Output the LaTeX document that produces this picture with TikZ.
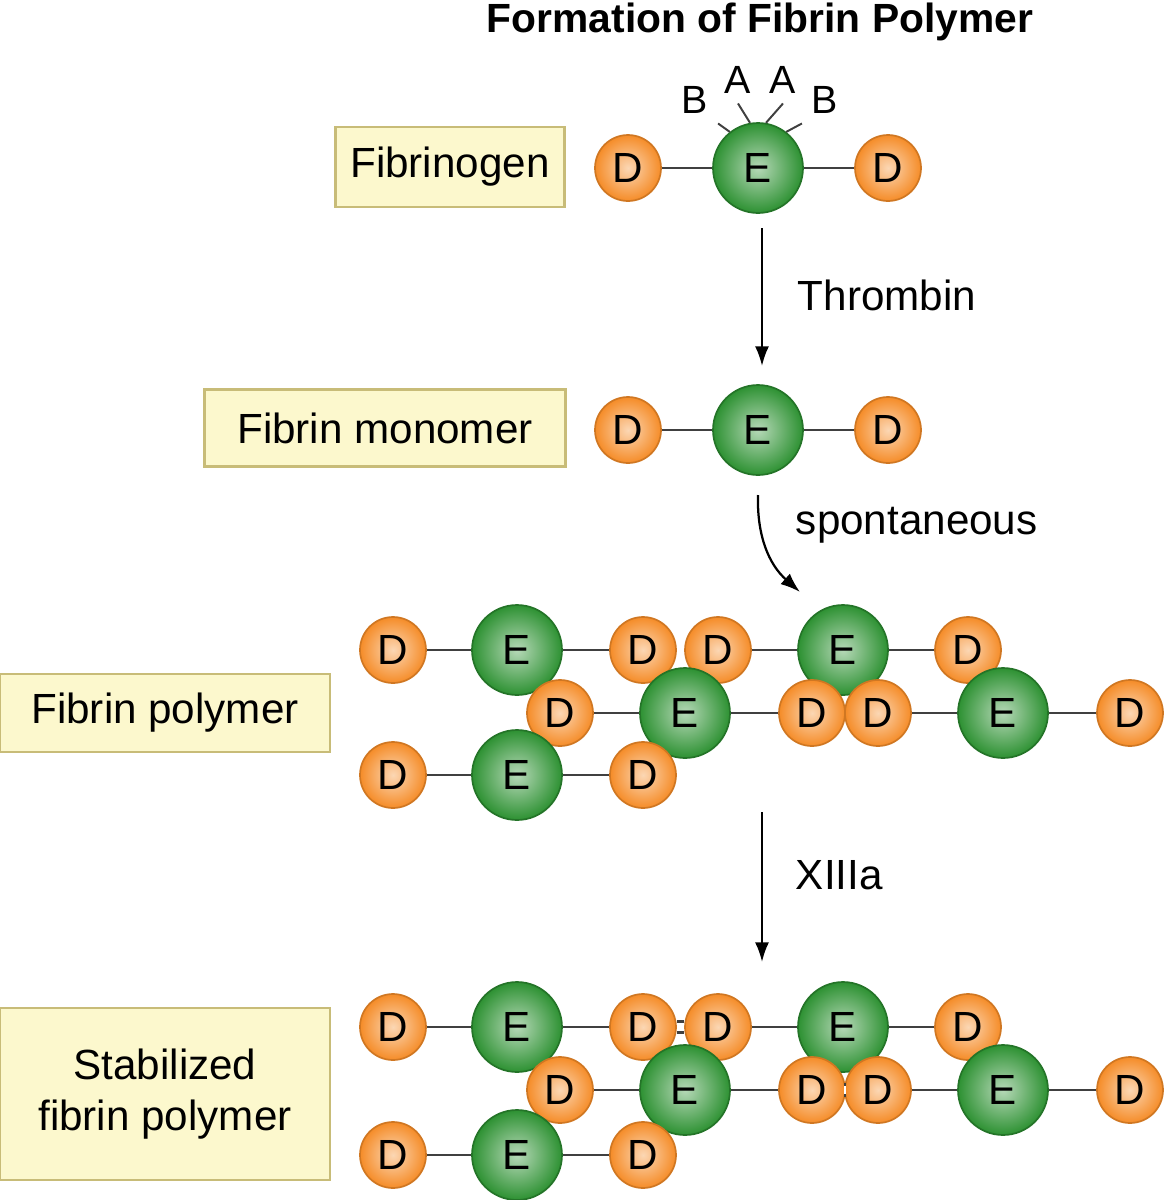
\documentclass[tikz,border=0pt]{standalone}
\usepackage{fontspec}
\setmainfont{Liberation Sans}
\definecolor{boxfill}{RGB}{252,248,205}
\definecolor{boxline}{RGB}{200,188,120}
\definecolor{dorange}{RGB}{245,140,40}
\definecolor{egreen}{RGB}{45,145,50}
\usetikzlibrary{arrows.meta}
\tikzset{
  dball/.style={circle, minimum size=66*0.0125cm, inner sep=0pt, draw=dorange!85!black, line width=0.6pt, inner color=dorange!35, outer color=dorange, font=\fontsize{15}{17}\selectfont},
  eball/.style={circle, minimum size=90*0.0125cm, inner sep=0pt, draw=egreen!80!black, line width=0.6pt, inner color=egreen!35, outer color=egreen, font=\fontsize{15}{17}\selectfont},
  bond/.style={gray!50!black, line width=1pt},
  xlink/.style={gray!50!black, double, double distance=3pt, line width=0.9pt},
  label box/.style={draw=boxline, line width=1pt, fill=boxfill, inner sep=0pt, font=\fontsize{15}{18}\selectfont, align=center},
  stage arrow/.style={-{Latex[length=7pt,width=5pt]}, line width=0.8pt},
  stage text/.style={font=\fontsize{15}{17}\selectfont}
}
% one D--E--D strand
\newcommand{\strand}[5]{%
  \node[dball] (#1d1) at (#3,#2) {D};
  \node[eball] (#1e) at (#4,#2) {E};
  \node[dball] (#1d2) at (#5,#2) {D};
  \draw[bond] (#1d1) -- (#1e);
  \draw[bond] (#1e) -- (#1d2);
}
\begin{document}
\begin{tikzpicture}[x=0.0125cm, y=-0.0125cm]
  \useasboundingbox (0,0) rectangle (1164,1200);

  % Title:
  \node[font=\bfseries\fontsize{14.5}{17}\selectfont] (title) at (760,22) {Formation of Fibrin Polymer};

  % Fibrinogen:
  \node[label box, minimum width=229*0.0125cm, minimum height=80*0.0125cm] (fgbox) at (450,167) {Fibrinogen};
  \strand{fg}{168}{628}{758}{888}
  \node[font=\fontsize{14}{16}\selectfont] (fgb1) at (695,100) {B};
  \node[font=\fontsize{14}{16}\selectfont] (fga1) at (738,80) {A};
  \node[font=\fontsize{14}{16}\selectfont] (fga2) at (783,80) {A};
  \node[font=\fontsize{14}{16}\selectfont] (fgb2) at (825,100) {B};
  \draw[bond, line width=0.7pt] (fge.128) -- (fgb1.south east);
  \draw[bond, line width=0.7pt] (fge.100) -- (fga1.south);
  \draw[bond, line width=0.7pt] (fge.80) -- (fga2.south);
  \draw[bond, line width=0.7pt] (fge.52) -- (fgb2.south west);

  % Thrombin step:
  \coordinate (t1) at (762,228);
  \coordinate (t2) at (762,366);
  \draw[stage arrow] (t1) -- (t2);
  \node[stage text, anchor=west] (thr) at (788,295) {Thrombin};

  % Fibrin monomer:
  \node[label box, minimum width=361*0.0125cm, minimum height=77*0.0125cm] (fmbox) at (385,428) {Fibrin monomer};
  \strand{fm}{430}{628}{758}{888}

  % spontaneous step:
  \coordinate (s1) at (758,495);
  \coordinate (s2) at (800,592);
  \draw[stage arrow] (s1) to[bend right=25] (s2);
  \node[stage text, anchor=west] (spo) at (786,525) {spontaneous};

  % Fibrin polymer:
  \node[label box, minimum width=330*0.0125cm, minimum height=78*0.0125cm] (fpbox) at (165,713) {Fibrin polymer};
  \strand{pa}{650}{393}{517}{643}
  \strand{pb}{650}{718}{843}{968}
  \strand{pc}{713}{560}{685}{812}
  \strand{pd}{713}{878}{1003}{1130}
  \strand{pe}{775}{393}{517}{643}

  % XIIIa step:
  \coordinate (x1) at (762,812);
  \coordinate (x2) at (762,962);
  \draw[stage arrow] (x1) -- (x2);
  \node[stage text, anchor=west] (f13) at (786,875) {XIIIa};

  % Stabilized fibrin polymer:
  \node[label box, minimum width=330*0.0125cm, minimum height=172*0.0125cm] (sfbox) at (165,1094) {Stabilized\\fibrin polymer};
  \strand{sa}{1027}{393}{517}{643}
  \strand{sb}{1027}{718}{843}{968}
  \strand{sc}{1090}{560}{685}{812}
  \strand{sd}{1090}{878}{1003}{1130}
  \strand{se}{1155}{393}{517}{643}
  \draw[xlink] (sad2) -- (sbd1);
  \draw[xlink] (scd2) -- (sdd1);
\end{tikzpicture}
\end{document}
